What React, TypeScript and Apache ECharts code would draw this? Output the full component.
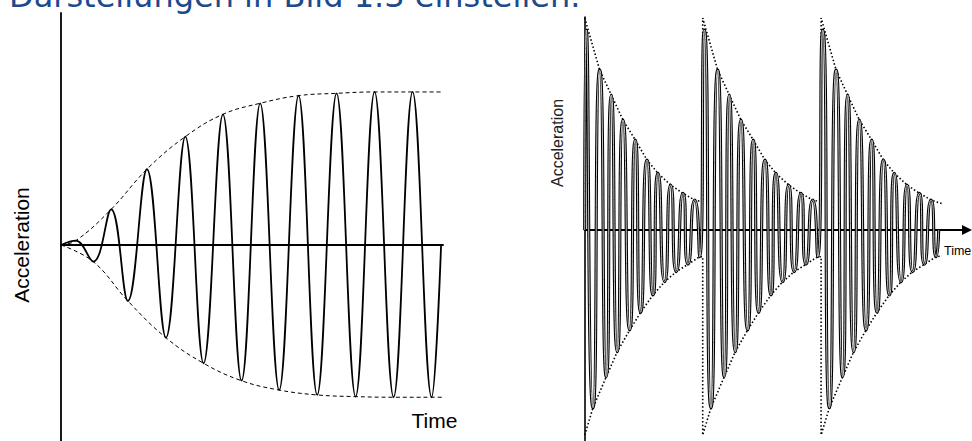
import React, { useEffect, useRef } from "react";
import * as echarts from "echarts";

const TITLE = "Darstellungen in Bild 1.3 einstellen.";
const Y_NAME = "Acceleration";
const X_NAME = "Time";

// Left chart: build-up of the oscillation (time in periods, amplitude in % of max)
const buildStart: [number, number] = [0, 0];
const buildEnd: [number, number] = [10, 0];
const buildPeakTimes = [0.39, 1.32, 2.26, 3.27, 4.26, 5.24, 6.25, 7.25, 8.25, 9.25];
const buildPeakValues = [2.8, 23.3, 49.5, 70.8, 85.4, 92.6, 97.6, 99.1, 100, 100];
const buildTroughTimes = [0.85, 1.76, 2.76, 3.75, 4.75, 5.74, 6.74, 7.75, 8.75, 9.75];
const buildTroughValues = [-10.9, -36.6, -60.6, -77.3, -88.7, -94.8, -98, -99.1, -99.5, -99.5];
const buildEnvEndTime = 10.05;
const buildEnvUpperEnd = 100;
const buildEnvLowerEnd = -99.5;

// Right chart: three repeated decaying bursts
const burstStarts = [0, 118, 236.4];
const decayPeakTimes = [1.6, 15, 26.6, 38.3, 50.6, 62.3, 73.3, 86, 98.3, 110];
const decayPeakValues = [200, 160, 135, 110, 90, 70, 56.7, 45, 36.7, 30];
const decayTroughTimes = [8.3, 21.6, 32.6, 45, 56, 68.3, 80, 91.6, 103.3, 115];
const decayTroughValues = [-177.7, -146.7, -121.7, -100, -82.3, -65, -51.7, -41.7, -34.3, -26.7];
const decayEnvUpperStart = 212;
const decayEnvLowerStart = -205;
const decayEnvUpperTail = [359, 25.7];
const decayEnvLowerTail = [357.3, -26];
const decayEndTime = 354;

function mergeExtremes(pt: number[], pv: number[], tt: number[], tv: number[], offset: number) {
  const pts: [number, number][] = [];
  pt.forEach((t, i) => pts.push([t + offset, pv[i]]));
  tt.forEach((t, i) => pts.push([t + offset, tv[i]]));
  pts.sort((a, b) => a[0] - b[0]);
  return pts;
}

export default function App() {
  const ref = useRef<HTMLDivElement>(null);
  useEffect(() => {
    document.body.style.margin = "0";
    if (!ref.current) return;
    const chart = echarts.init(ref.current, undefined, { renderer: "svg" });

    const buildWave: [number, number][] = [
      buildStart,
      ...mergeExtremes(buildPeakTimes, buildPeakValues, buildTroughTimes, buildTroughValues, 0),
      buildEnd,
    ];
    const buildUpper: [number, number][] = [
      [0, 0],
      ...buildPeakTimes.map((t, i) => [t, buildPeakValues[i]] as [number, number]),
      [buildEnvEndTime, buildEnvUpperEnd],
    ];
    const buildLower: [number, number][] = [
      [0, 0],
      ...buildTroughTimes.map((t, i) => [t, buildTroughValues[i]] as [number, number]),
      [buildEnvEndTime, buildEnvLowerEnd],
    ];

    const decayWave: [number, number][] = [[0, 0]];
    burstStarts.forEach((s) => {
      decayWave.push(...mergeExtremes(decayPeakTimes, decayPeakValues, decayTroughTimes, decayTroughValues, s));
    });
    decayWave.push([decayEndTime, 0]);

    const decayUpper: number[][] = [];
    const decayLower: number[][] = [];
    burstStarts.forEach((s, k) => {
      decayUpper.push([s, decayEnvUpperStart]);
      for (let i = 1; i < decayPeakTimes.length; i++) decayUpper.push([s + decayPeakTimes[i], decayPeakValues[i]]);
      decayLower.push([s, decayEnvLowerStart]);
      for (let i = 0; i < decayTroughTimes.length; i++) decayLower.push([s + decayTroughTimes[i], decayTroughValues[i]]);
      const next = burstStarts[k + 1];
      if (next !== undefined) {
        decayUpper.push([next, decayPeakValues[decayPeakValues.length - 1] - 2]);
        decayLower.push([next, decayTroughValues[decayTroughValues.length - 1]]);
      } else {
        decayUpper.push(decayEnvUpperTail);
        decayLower.push(decayEnvLowerTail);
      }
    });

    const axisCommon = {
      type: "value" as const,
      axisTick: { show: false },
      axisLabel: { show: false },
      splitLine: { show: false },
    };

    chart.setOption({
      animation: false,
      backgroundColor: "#ffffff",
      grid: [
        { left: 61, top: 13, width: 382, height: 428 },
        { left: 584.7, top: 17, width: 382.3, height: 424 },
      ],
      xAxis: [
        {
          ...axisCommon,
          gridIndex: 0,
          min: 0,
          max: 10.05,
          axisLine: { show: true, onZero: true, lineStyle: { color: "#000", width: 1.8 } },
        },
        {
          ...axisCommon,
          gridIndex: 1,
          min: 0,
          max: 382.3,
          axisLine: {
            show: true,
            onZero: true,
            symbol: ["none", "triangle"],
            symbolSize: [10, 10],
            lineStyle: { color: "#000", width: 2 },
          },
        },
      ],
      yAxis: [
        {
          ...axisCommon,
          gridIndex: 0,
          min: -128.1,
          max: 151.6,
          axisLine: { show: true, onZero: false, lineStyle: { color: "#000", width: 1.8 } },
        },
        {
          ...axisCommon,
          gridIndex: 1,
          min: -211,
          max: 213,
          axisLine: { show: true, onZero: false, lineStyle: { color: "#000", width: 1.6 } },
        },
      ],
      series: [
        {
          type: "line",
          xAxisIndex: 0,
          yAxisIndex: 0,
          data: buildUpper,
          smooth: 0.4,
          symbol: "none",
          silent: true,
          lineStyle: { color: "#000", width: 1, type: [4, 3] },
        },
        {
          type: "line",
          xAxisIndex: 0,
          yAxisIndex: 0,
          data: buildLower,
          smooth: 0.4,
          symbol: "none",
          silent: true,
          lineStyle: { color: "#000", width: 1, type: [4, 3] },
        },
        {
          type: "line",
          xAxisIndex: 0,
          yAxisIndex: 0,
          data: buildWave,
          smooth: 0.4,
          symbol: "none",
          silent: true,
          lineStyle: { color: "#000", width: 1.8 },
        },
        {
          type: "line",
          xAxisIndex: 1,
          yAxisIndex: 1,
          data: decayUpper,
          symbol: "none",
          silent: true,
          lineStyle: { color: "#000", width: 1.6, type: [1.5, 2.2] },
        },
        {
          type: "line",
          xAxisIndex: 1,
          yAxisIndex: 1,
          data: decayLower,
          symbol: "none",
          silent: true,
          lineStyle: { color: "#000", width: 1.6, type: [1.5, 2.2] },
        },
        {
          type: "line",
          xAxisIndex: 1,
          yAxisIndex: 1,
          data: decayWave,
          smooth: 0.8,
          symbol: "none",
          silent: true,
          lineStyle: { color: "#000", width: 3.1 },
        },
        {
          type: "line",
          xAxisIndex: 1,
          yAxisIndex: 1,
          data: decayWave,
          smooth: 0.8,
          symbol: "none",
          silent: true,
          lineStyle: { color: "#c4c4c4", width: 1 },
        },
      ],
      graphic: [
        {
          type: "text",
          x: 9,
          y: -4,
          style: {
            text: TITLE,
            fontFamily: "DejaVu Sans",
            fontSize: 32,
            fill: "#1c4a8c",
            align: "left",
            verticalAlign: "middle",
          },
        },
        {
          type: "text",
          x: 21.4,
          y: 245,
          rotation: Math.PI / 2,
          style: {
            text: Y_NAME,
            fontFamily: "Liberation Sans",
            fontSize: 21,
            fill: "#000",
            align: "center",
            verticalAlign: "middle",
          },
        },
        {
          type: "text",
          x: 411.5,
          y: 420,
          style: {
            text: X_NAME,
            fontFamily: "Liberation Sans",
            fontSize: 21,
            fill: "#000",
            align: "left",
            verticalAlign: "middle",
          },
        },
        {
          type: "text",
          x: 557.8,
          y: 143,
          rotation: Math.PI / 2,
          style: {
            text: Y_NAME,
            fontFamily: "Liberation Sans",
            fontSize: 16,
            fill: "#222",
            align: "center",
            verticalAlign: "middle",
          },
        },
        {
          type: "text",
          x: 944,
          y: 251,
          style: {
            text: X_NAME,
            fontFamily: "Liberation Sans",
            fontSize: 12.5,
            fill: "#000",
            align: "left",
            verticalAlign: "middle",
          },
        },
      ],
    });
    return () => chart.dispose();
  }, []);
  return (
    <div
      ref={ref}
      style={{ position: "absolute", left: 0, top: 0, width: 972, height: 441, overflow: "hidden" }}
    />
  );
}
